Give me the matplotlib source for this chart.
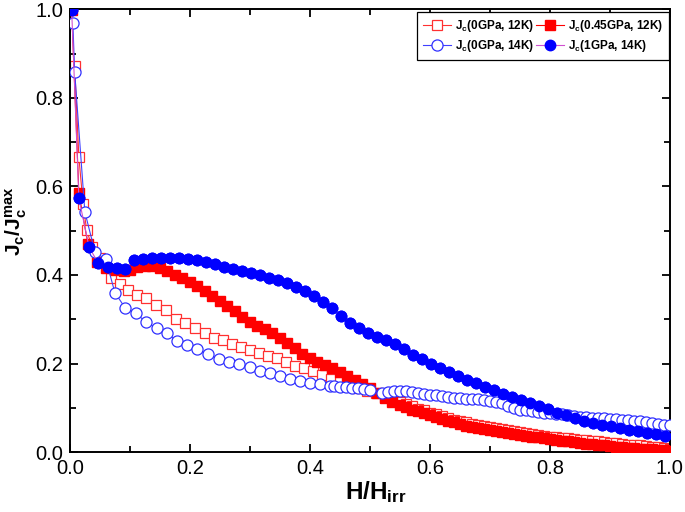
import matplotlib
matplotlib.use("Agg")
import matplotlib.pyplot as plt
from matplotlib.ticker import MultipleLocator

plt.rcParams['font.family'] = ['Liberation Sans', 'DejaVu Sans']
plt.rcParams['mathtext.fontset'] = 'custom'
plt.rcParams['mathtext.rm'] = 'Liberation Sans'
plt.rcParams['mathtext.bf'] = 'Liberation Sans:bold'

# Jc(0GPa, 12K) - open red squares
x_0gpa_12k = [0.008, 0.015, 0.022, 0.028, 0.037, 0.050, 0.068, 0.083, 0.097, 0.112,
              0.127, 0.143, 0.160, 0.177, 0.192, 0.208, 0.225, 0.240, 0.255, 0.270,
              0.285, 0.300, 0.315, 0.330, 0.345, 0.360, 0.375, 0.390, 0.405, 0.420,
              0.435, 0.450, 0.465, 0.480, 0.495, 0.510, 0.525, 0.540,
              0.55, 0.56, 0.57, 0.58, 0.59, 0.60, 0.61, 0.62, 0.63, 0.64,
              0.65, 0.66, 0.67, 0.68, 0.69, 0.70, 0.71, 0.72, 0.73, 0.74,
              0.75, 0.76, 0.77, 0.78, 0.79, 0.80, 0.81, 0.82, 0.83, 0.84,
              0.85, 0.86, 0.87, 0.88, 0.89, 0.90, 0.91, 0.92, 0.93, 0.94,
              0.95, 0.96, 0.97, 0.98, 0.99, 1.00]
y_0gpa_12k = [0.871, 0.666, 0.560, 0.501, 0.463, 0.438, 0.392, 0.379, 0.367, 0.354,
              0.348, 0.333, 0.320, 0.300, 0.291, 0.280, 0.269, 0.258, 0.252, 0.245,
              0.238, 0.231, 0.224, 0.218, 0.212, 0.203, 0.195, 0.189, 0.183, 0.174,
              0.166, 0.158, 0.152, 0.145, 0.139, 0.133, 0.125, 0.117,
              0.112, 0.108, 0.103, 0.098, 0.094, 0.089, 0.085, 0.081, 0.077, 0.073,
              0.070, 0.067, 0.064, 0.061, 0.058, 0.056, 0.054, 0.052, 0.050, 0.047,
              0.045, 0.043, 0.041, 0.039, 0.037, 0.035, 0.034, 0.032, 0.031, 0.029,
              0.028, 0.027, 0.025, 0.024, 0.022, 0.021, 0.020, 0.019, 0.017, 0.016,
              0.015, 0.013, 0.012, 0.011, 0.010, 0.008]

# Jc(0.45GPa, 12K) - filled red squares
x_045gpa_12k = [0.003, 0.015, 0.030, 0.045, 0.060, 0.075, 0.090, 0.100, 0.112, 0.125,
                0.137, 0.150, 0.162, 0.175, 0.187, 0.200, 0.212, 0.225, 0.237, 0.250,
                0.262, 0.275, 0.287, 0.300, 0.312, 0.325, 0.337, 0.350, 0.362, 0.375,
                0.387, 0.400, 0.412, 0.425, 0.437, 0.450, 0.462, 0.475, 0.487, 0.500,
                0.512, 0.525, 0.537,
                0.55, 0.56, 0.57, 0.58, 0.59, 0.60, 0.61, 0.62, 0.63, 0.64,
                0.65, 0.66, 0.67, 0.68, 0.69, 0.70, 0.71, 0.72, 0.73, 0.74,
                0.75, 0.76, 0.77, 0.78, 0.79, 0.80, 0.81, 0.82, 0.83, 0.84,
                0.85, 0.86, 0.87, 0.88, 0.89, 0.90, 0.91, 0.92, 0.93, 0.94,
                0.95, 0.96, 0.97, 0.98, 0.99, 1.00]
y_045gpa_12k = [0.998, 0.585, 0.470, 0.430, 0.415, 0.412, 0.410, 0.412, 0.418, 0.421,
                0.420, 0.415, 0.409, 0.400, 0.392, 0.384, 0.375, 0.364, 0.353, 0.342,
                0.330, 0.318, 0.306, 0.294, 0.285, 0.277, 0.268, 0.258, 0.246, 0.234,
                0.222, 0.212, 0.203, 0.196, 0.190, 0.181, 0.172, 0.163, 0.154, 0.144,
                0.134, 0.122, 0.112,
                0.106, 0.101, 0.096, 0.092, 0.088, 0.084, 0.080, 0.075, 0.071, 0.067,
                0.063, 0.060, 0.057, 0.054, 0.052, 0.049, 0.047, 0.045, 0.043, 0.041,
                0.039, 0.037, 0.035, 0.033, 0.031, 0.029, 0.027, 0.026, 0.024, 0.022,
                0.021, 0.019, 0.018, 0.016, 0.015, 0.013, 0.012, 0.011, 0.010, 0.009,
                0.008, 0.007, 0.006, 0.005, 0.004, 0.003]

# Jc(0GPa, 14K) - open blue circles
x_0gpa_14k = [0.005, 0.008, 0.025, 0.042, 0.060, 0.075, 0.092, 0.110, 0.127, 0.145,
              0.162, 0.178, 0.195, 0.212, 0.230, 0.248, 0.265, 0.282, 0.300, 0.317,
              0.333, 0.350, 0.367, 0.383, 0.400, 0.417, 0.433, 0.440, 0.450, 0.460,
              0.470, 0.480, 0.490, 0.500, 0.520,
              0.530, 0.540, 0.550, 0.560, 0.570, 0.580, 0.590, 0.600, 0.610, 0.620,
              0.630, 0.640, 0.650, 0.660, 0.670, 0.680, 0.690, 0.700, 0.710, 0.720,
              0.730, 0.740, 0.750, 0.760, 0.770, 0.780, 0.790, 0.800, 0.810, 0.820,
              0.830, 0.840, 0.850, 0.860, 0.870, 0.880, 0.890, 0.900, 0.910, 0.920,
              0.930, 0.940, 0.950, 0.960, 0.970, 0.980, 0.990, 1.000]
y_0gpa_14k = [0.968, 0.858, 0.542, 0.451, 0.435, 0.360, 0.326, 0.314, 0.293, 0.280,
              0.269, 0.250, 0.242, 0.232, 0.221, 0.210, 0.203, 0.198, 0.192, 0.184,
              0.179, 0.172, 0.165, 0.160, 0.157, 0.153, 0.150, 0.149, 0.148, 0.147,
              0.145, 0.144, 0.142, 0.140, 0.133,
              0.136, 0.138, 0.139, 0.138, 0.136, 0.134, 0.132, 0.130, 0.128, 0.127,
              0.125, 0.123, 0.122, 0.121, 0.120, 0.119, 0.118, 0.116, 0.114, 0.110,
              0.104, 0.099, 0.096, 0.094, 0.092, 0.090, 0.089, 0.088, 0.086, 0.085,
              0.084, 0.082, 0.080, 0.079, 0.078, 0.077, 0.076, 0.075, 0.074, 0.073,
              0.072, 0.071, 0.070, 0.068, 0.066, 0.064, 0.062, 0.061]

# Jc(1GPa, 14K) - filled blue circles
x_1gpa_14k = [0.003, 0.015, 0.032, 0.047, 0.063, 0.078, 0.092, 0.107, 0.122, 0.137,
              0.152, 0.167, 0.182, 0.197, 0.212, 0.227, 0.242, 0.257, 0.272, 0.287,
              0.302, 0.317, 0.332, 0.347, 0.362, 0.377, 0.392, 0.407, 0.422, 0.437,
              0.452, 0.467, 0.482, 0.497, 0.512, 0.527, 0.542, 0.557, 0.572, 0.587,
              0.602, 0.617, 0.632, 0.647, 0.662, 0.677, 0.692, 0.707, 0.722, 0.737,
              0.752, 0.767, 0.782, 0.797, 0.812, 0.827, 0.842, 0.857, 0.872, 0.887,
              0.902, 0.917, 0.932, 0.947, 0.962, 0.977, 0.992]
y_1gpa_14k = [0.998, 0.573, 0.463, 0.427, 0.418, 0.415, 0.413, 0.433, 0.436, 0.438,
              0.438, 0.438, 0.438, 0.436, 0.433, 0.429, 0.424, 0.419, 0.413, 0.409,
              0.404, 0.400, 0.394, 0.388, 0.381, 0.372, 0.363, 0.352, 0.340, 0.325,
              0.308, 0.292, 0.280, 0.270, 0.261, 0.252, 0.243, 0.232, 0.220, 0.210,
              0.200, 0.190, 0.180, 0.172, 0.163, 0.155, 0.147, 0.140, 0.132, 0.125,
              0.118, 0.111, 0.104, 0.098, 0.088, 0.083, 0.077, 0.071, 0.066, 0.062,
              0.058, 0.055, 0.051, 0.048, 0.044, 0.040, 0.036]

fig = plt.figure(figsize=(6.85, 5.12), dpi=100)
ax = fig.add_axes([0.102, 0.117, 0.876, 0.865])

l1, = ax.plot(x_0gpa_12k, y_0gpa_12k, '-s', color='#ff3030', lw=0.8,
              mfc='white', mec='#ff3030', mew=0.9, ms=7, zorder=2,
              label=r'J$_\mathregular{c}$(0GPa, 12K)')
l2, = ax.plot(x_045gpa_12k, y_045gpa_12k, '-s', color='#ff0000', lw=0.8,
              mfc='#ff0000', mec='#ff0000', ms=6.5, zorder=3,
              label=r'J$_\mathregular{c}$(0.45GPa, 12K)')
l3, = ax.plot(x_0gpa_14k, y_0gpa_14k, '-o', color='#4040ff', lw=0.8,
              mfc='white', mec='#3030ff', mew=0.9, ms=8, zorder=4,
              label=r'J$_\mathregular{c}$(0GPa, 14K)')
l4, = ax.plot(x_1gpa_14k, y_1gpa_14k, '-o', color='#d050d0', lw=0.8,
              mfc='#0000ff', mec='#0000ff', ms=7.5, zorder=5,
              label=r'J$_\mathregular{c}$(1GPa, 14K)')
# markers of 1GPa drawn on top of open circles where they meet
ax.plot(x_1gpa_14k, y_1gpa_14k, 'o', mfc='#0000ff', mec='#0000ff', ms=7.5, zorder=3.5)

ax.set_xlim(0, 1.0)
ax.set_ylim(0, 1.0)
ax.xaxis.set_major_locator(MultipleLocator(0.2))
ax.xaxis.set_minor_locator(MultipleLocator(0.1))
ax.yaxis.set_major_locator(MultipleLocator(0.2))
ax.yaxis.set_minor_locator(MultipleLocator(0.1))
ax.tick_params(which='both', direction='in', top=True, right=True, width=1.3,
               labelsize=14.5, pad=5)
ax.tick_params(which='major', length=6)
ax.tick_params(which='minor', length=4)
for s in ax.spines.values():
    s.set_linewidth(1.4)

ax.set_xlabel(r'$\mathbf{H/H_{irr}}$', fontsize=17.5)
ax.set_ylabel(r'$\mathbf{J_c/J_c^{max}}$', fontsize=15)
ax.xaxis.set_label_coords(0.51, -0.062)
ax.yaxis.set_label_coords(-0.068, 0.52)

leg = ax.legend(handles=[l1, l3, l2, l4], ncol=2, loc='upper right',
                bbox_to_anchor=(0.9985, 0.994), borderaxespad=0, numpoints=1,
                handlelength=2.4, handletextpad=0.3, columnspacing=0.2,
                labelspacing=0.35, borderpad=0.5, fancybox=False,
                framealpha=1, edgecolor='black',
                prop={'weight': 'bold', 'size': 8.5})
leg.get_frame().set_linewidth(0.9)

fig.savefig('out.png', dpi=100)
